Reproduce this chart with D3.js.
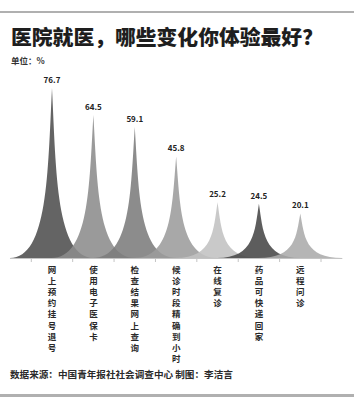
<!DOCTYPE html>
<html>
<head>
<meta charset="utf-8">
<script src="https://cdn.jsdelivr.net/npm/d3@7"></script>
<style>
  html, body { margin: 0; padding: 0; background: #fff; }
  svg { display: block; }
  text { font-family: "Noto Sans CJK SC", "Noto Sans", sans-serif; }
</style>
</head>
<body>
<script>
const categories = ["网上预约挂号退号", "使用电子医保卡", "检查结果网上查询", "候诊时段精确到小时", "在线复诊", "药品可快递回家", "远程问诊"];
const values = [76.7, 64.5, 59.1, 45.8, 25.2, 24.5, 20.1];
const colors = ["#4e4e4e", "#8c8c8c", "#7c7c7c", "#9c9c9c", "#c2c2c2", "#474747", "#ababab"];

const W = 354, H = 398;
const svg = d3.select("body").append("svg").attr("width", W).attr("height", H);

// frame lines
svg.append("rect").attr("x", 0).attr("y", 11).attr("width", W).attr("height", 2).attr("fill", "#b0b0b0");
svg.append("rect").attr("x", 0).attr("y", 394).attr("width", W).attr("height", 3).attr("fill", "#b0b0b0");

// title
svg.append("text").attr("x", 11).attr("y", 45)
  .attr("font-size", 20.8).attr("font-weight", 900).attr("fill", "#1e1e1e")
  .text("医院就医，哪些变化你体验最好？");
svg.append("text").attr("x", 11).attr("y", 64)
  .attr("font-size", 8.5).attr("font-weight", 700).attr("fill", "#333")
  .text("单位：%");

const baseY = 258;
const x = d3.scaleBand().domain(categories).range([31.3, 321]).padding(0);
const y = d3.scaleLinear().domain([0, 76.7]).range([baseY, 88]);
const bw = x.bandwidth();
const PW = bw * 2.03; // peak base width

function peakPath(c, top) {
  const h = baseY - top;
  const p = d3.path();
  p.moveTo(c - PW / 2, baseY);
  p.bezierCurveTo(c - 0.05 * PW, baseY, c - 0.05 * PW, baseY - h / 2, c, top);
  p.bezierCurveTo(c + 0.05 * PW, baseY - h / 2, c + 0.05 * PW, baseY, c + PW / 2, baseY);
  p.closePath();
  return p.toString();
}

const g = svg.append("g");
g.selectAll("path.peak").data(categories).join("path")
  .attr("class", "peak")
  .attr("d", (d, i) => peakPath(x(d) + bw / 2, y(values[i])))
  .attr("fill", (d, i) => colors[i])
  .attr("fill-opacity", 0.88);

// axis line
const x0 = x(categories[0]) + bw / 2 - PW / 2;
const x1 = x(categories[categories.length - 1]) + bw / 2 + PW / 2;
svg.append("line").attr("x1", x0).attr("x2", x1).attr("y1", baseY + 0.5).attr("y2", baseY + 0.5)
  .attr("stroke", "#c4c4c4").attr("stroke-width", 1.2);

const tickXs = categories.map(d => x(d)).concat([x(categories[categories.length - 1]) + bw]);
svg.selectAll("line.tick").data(tickXs).join("line")
  .attr("class", "tick")
  .attr("x1", d => d).attr("x2", d => d)
  .attr("y1", baseY).attr("y2", baseY + 4)
  .attr("stroke", "#c4c4c4").attr("stroke-width", 1);

// value labels
svg.selectAll("text.val").data(categories).join("text")
  .attr("class", "val")
  .attr("x", d => x(d) + bw / 2)
  .attr("y", (d, i) => y(values[i]) - 5)
  .attr("text-anchor", "middle")
  .attr("font-size", 8).attr("font-weight", 700).attr("fill", "#222")
  .text((d, i) => values[i].toFixed(1));

// vertical category labels
const lab = svg.selectAll("g.lab").data(categories).join("g")
  .attr("class", "lab")
  .attr("transform", d => `translate(${x(d) + bw / 2},0)`);
lab.each(function(d) {
  const chars = Array.from(d);
  d3.select(this).selectAll("text").data(chars).join("text")
    .attr("x", 0)
    .attr("y", (c, j) => 273 + j * 11.1)
    .attr("text-anchor", "middle")
    .attr("font-size", 8.5).attr("font-weight", 700).attr("fill", "#2a2a2a")
    .text(c => c);
});

// footer
svg.append("text").attr("x", 10).attr("y", 378)
  .attr("font-size", 9.6).attr("font-weight", 700).attr("fill", "#2a2a2a")
  .text("数据来源：中国青年报社社会调查中心 制图：李洁言");
</script>
</body>
</html>
